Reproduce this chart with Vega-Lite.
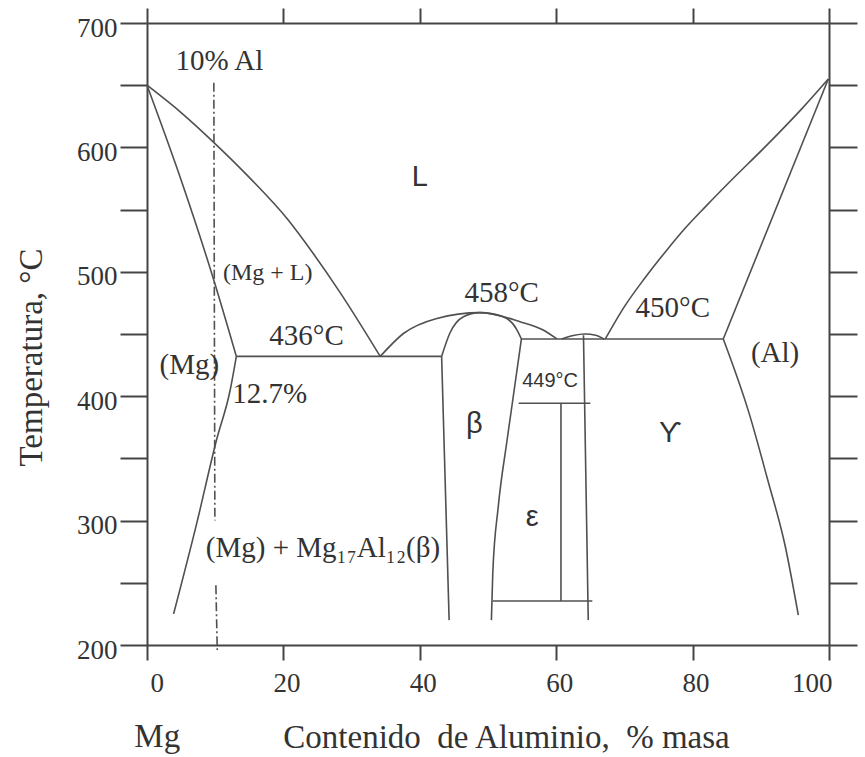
{
  "$schema": "https://vega.github.io/schema/vega-lite/v6.json",
  "width": 682,
  "height": 622,
  "autosize": {"type": "none"},
  "padding": {"left": 147, "top": 23, "right": 36, "bottom": 112},
  "background": "white",
  "config": {
    "view": {"stroke": null},
    "axis": {
      "grid": false,
      "domainColor": "#444",
      "tickColor": "#444",
      "domainWidth": 2,
      "tickWidth": 2,
      "labelFont": "Liberation Serif",
      "labelColor": "#333",
      "labelFontSize": 27,
      "titleFont": "Liberation Serif",
      "titleFontWeight": "normal",
      "titleColor": "#333",
      "titleFontSize": 33
    }
  },
  "datasets": {
    "lines": [
      {"seg": "liqL", "x": 0, "y": 650}, {"seg": "liqL", "x": 5, "y": 628}, {"seg": "liqL", "x": 9.7, "y": 604.5}, {"seg": "liqL", "x": 15.1, "y": 575.3}, {"seg": "liqL", "x": 20.5, "y": 543}, {"seg": "liqL", "x": 24.4, "y": 514.5}, {"seg": "liqL", "x": 28.3, "y": 483.5}, {"seg": "liqL", "x": 34.2, "y": 432},
      {"seg": "solL", "x": 0, "y": 650}, {"seg": "solL", "x": 4.8, "y": 577}, {"seg": "solL", "x": 9.7, "y": 495}, {"seg": "solL", "x": 13.1, "y": 432},
      {"seg": "solvMg", "x": 3.9, "y": 225}, {"seg": "solvMg", "x": 7.3, "y": 298}, {"seg": "solvMg", "x": 10.2, "y": 365}, {"seg": "solvMg", "x": 12.2, "y": 405}, {"seg": "solvMg", "x": 13.1, "y": 432},
      {"seg": "eutL", "x": 13.1, "y": 432}, {"seg": "eutL", "x": 43.2, "y": 432},
      {"seg": "betaL", "x": 43.2, "y": 432}, {"seg": "betaL", "x": 44.3, "y": 220},
      {"seg": "betaTop", "x": 43.2, "y": 432}, {"seg": "betaTop", "x": 44.4, "y": 450.6}, {"seg": "betaTop", "x": 46.4, "y": 463.9}, {"seg": "betaTop", "x": 48.8, "y": 467.2}, {"seg": "betaTop", "x": 52.2, "y": 463.9}, {"seg": "betaTop", "x": 54.2, "y": 453.8}, {"seg": "betaTop", "x": 54.9, "y": 446},
      {"seg": "dome", "x": 34.2, "y": 432}, {"seg": "dome", "x": 37.6, "y": 450.4}, {"seg": "dome", "x": 42.5, "y": 462.5}, {"seg": "dome", "x": 48.8, "y": 467.2}, {"seg": "dome", "x": 54.7, "y": 459.9}, {"seg": "dome", "x": 58.1, "y": 453.2}, {"seg": "dome", "x": 60.1, "y": 446},
      {"seg": "smallDome", "x": 60.8, "y": 446}, {"seg": "smallDome", "x": 62.5, "y": 448.8}, {"seg": "smallDome", "x": 64.2, "y": 450}, {"seg": "smallDome", "x": 65.8, "y": 449}, {"seg": "smallDome", "x": 67.0, "y": 446},
      {"seg": "epsL", "x": 50.5, "y": 220}, {"seg": "epsL", "x": 50.7, "y": 257.6}, {"seg": "epsL", "x": 51.5, "y": 311}, {"seg": "epsL", "x": 52.8, "y": 364.8}, {"seg": "epsL", "x": 54.9, "y": 446},
      {"seg": "gammaL", "x": 64.0, "y": 449}, {"seg": "gammaL", "x": 64.7, "y": 220},
      {"seg": "eut2", "x": 54.9, "y": 446}, {"seg": "eut2", "x": 84.5, "y": 446},
      {"seg": "epsTop", "x": 54.5, "y": 394.3}, {"seg": "epsTop", "x": 65.0, "y": 394.3},
      {"seg": "epsBot", "x": 50.7, "y": 235.4}, {"seg": "epsBot", "x": 65.3, "y": 235.4},
      {"seg": "epsVert", "x": 60.7, "y": 394.3}, {"seg": "epsVert", "x": 60.7, "y": 235.4},
      {"seg": "liqR", "x": 67.2, "y": 446}, {"seg": "liqR", "x": 70, "y": 472}, {"seg": "liqR", "x": 73.0, "y": 495}, {"seg": "liqR", "x": 76, "y": 516}, {"seg": "liqR", "x": 78.9, "y": 535}, {"seg": "liqR", "x": 82, "y": 553}, {"seg": "liqR", "x": 85.2, "y": 571}, {"seg": "liqR", "x": 91.1, "y": 603}, {"seg": "liqR", "x": 96.0, "y": 631}, {"seg": "liqR", "x": 99.9, "y": 655},
      {"seg": "solR", "x": 84.5, "y": 446}, {"seg": "solR", "x": 99.9, "y": 655},
      {"seg": "solvAl", "x": 84.5, "y": 446}, {"seg": "solvAl", "x": 88.3, "y": 386}, {"seg": "solvAl", "x": 91.0, "y": 333}, {"seg": "solvAl", "x": 93.6, "y": 279}, {"seg": "solvAl", "x": 95.5, "y": 224}
    ],
    "alloy": [
      {"seg": "a", "x": 9.8, "y": 652}, {"seg": "a", "x": 9.95, "y": 300},
      {"seg": "b", "x": 10.1, "y": 248}, {"seg": "b", "x": 10.3, "y": 196}
    ],
    "serif": [
      {"t": "10% Al", "x": 10.6, "y": 669.5},
      {"t": "436°C", "x": 23.4, "y": 448.4},
      {"t": "(Mg)", "x": 6.2, "y": 424.7},
      {"t": "12.7%", "x": 18.0, "y": 401.8},
      {"t": "(Mg) + Mg₁₇Al₁₂(β)", "x": 25.8, "y": 278},
      {"t": "458°C", "x": 52.0, "y": 483},
      {"t": "450°C", "x": 77.1, "y": 471},
      {"t": "(Al)", "x": 92.1, "y": 434.7}
    ],
    "serifSmall": [
      {"t": "(Mg + L)", "x": 17.7, "y": 499}
    ],
    "sans": [
      {"t": "L", "x": 40.0, "y": 576},
      {"t": "β", "x": 48.0, "y": 377.6},
      {"t": "ε", "x": 56.5, "y": 302.5},
      {"t": "ϒ", "x": 76.7, "y": 370.8}
    ],
    "sansSmall": [
      {"t": "449°C", "x": 59.1, "y": 412.2}
    ],
    "below": [
      {"t": "Mg", "x": 1.5, "y": 200}
    ]
  },
  "layer": [
    {
      "data": {"name": "lines"},
      "mark": {"type": "line", "interpolate": "monotone", "color": "#505050", "strokeWidth": 1.6},
      "encoding": {
        "x": {"field": "x", "type": "quantitative", "scale": {"domain": [0, 100], "nice": false, "zero": false},
          "axis": {"orient": "bottom", "values": [0, 20, 40, 60, 80, 100], "tickSize": 15, "labelPadding": 10, "labelOffset": 3,
            "title": "Contenido\u00a0 de Aluminio,\u00a0 % masa", "titleX": 359, "titleY": 92, "titleBaseline": "middle", "titleAlign": "center"}},
        "y": {"field": "y", "type": "quantitative", "scale": {"domain": [200, 700], "nice": false, "zero": false},
          "axis": {"orient": "left", "values": [200, 250, 300, 350, 400, 450, 500, 550, 600, 650, 700], "tickSize": 27, "labelPadding": 3, "labelOffset": 5,
            "labelExpr": "datum.value % 100 === 0 ? datum.label : ''", "title": "Temperatura, °C", "titlePadding": 28, "titleY": 334}},
        "detail": {"field": "seg"},
        "order": {"value": null}
      }
    },
    {
      "data": {"name": "alloy"},
      "mark": {"type": "line", "color": "#505050", "strokeWidth": 1.6, "strokeDash": [9, 3, 2, 3]},
      "encoding": {
        "x": {"field": "x", "type": "quantitative", "axis": {"orient": "top", "values": [0, 20, 40, 60, 80, 100], "tickSize": 15, "labels": false, "title": null}},
        "y": {"field": "y", "type": "quantitative", "axis": {"orient": "right", "values": [200, 250, 300, 350, 400, 450, 500, 550, 600, 650, 700], "tickSize": 28, "labels": false, "title": null}},
        "detail": {"field": "seg"},
        "order": {"value": null}
      }
    },
    {
      "data": {"name": "serif"},
      "mark": {"type": "text", "font": "Liberation Serif", "fontSize": 29, "color": "#333", "baseline": "middle", "align": "center"},
      "encoding": {
        "x": {"field": "x", "type": "quantitative", "axis": null},
        "y": {"field": "y", "type": "quantitative", "axis": null},
        "text": {"field": "t"}
      }
    },
    {
      "data": {"name": "serifSmall"},
      "mark": {"type": "text", "font": "Liberation Serif", "fontSize": 24, "color": "#333", "baseline": "middle", "align": "center"},
      "encoding": {
        "x": {"field": "x", "type": "quantitative", "axis": null},
        "y": {"field": "y", "type": "quantitative", "axis": null},
        "text": {"field": "t"}
      }
    },
    {
      "data": {"name": "sans"},
      "mark": {"type": "text", "font": "Liberation Sans, DejaVu Sans", "fontSize": 29, "color": "#333", "baseline": "middle", "align": "center"},
      "encoding": {
        "x": {"field": "x", "type": "quantitative", "axis": null},
        "y": {"field": "y", "type": "quantitative", "axis": null},
        "text": {"field": "t"}
      }
    },
    {
      "data": {"name": "sansSmall"},
      "mark": {"type": "text", "font": "Liberation Sans", "fontSize": 20, "color": "#333", "baseline": "middle", "align": "center"},
      "encoding": {
        "x": {"field": "x", "type": "quantitative", "axis": null},
        "y": {"field": "y", "type": "quantitative", "axis": null},
        "text": {"field": "t"}
      }
    },
    {
      "data": {"name": "below"},
      "mark": {"type": "text", "font": "Liberation Serif", "fontSize": 33, "color": "#333", "baseline": "middle", "align": "center", "dy": 92},
      "encoding": {
        "x": {"field": "x", "type": "quantitative", "axis": null},
        "y": {"field": "y", "type": "quantitative", "axis": null},
        "text": {"field": "t"}
      }
    }
  ],
  "resolve": {"axis": {"x": "independent", "y": "independent"}}
}
